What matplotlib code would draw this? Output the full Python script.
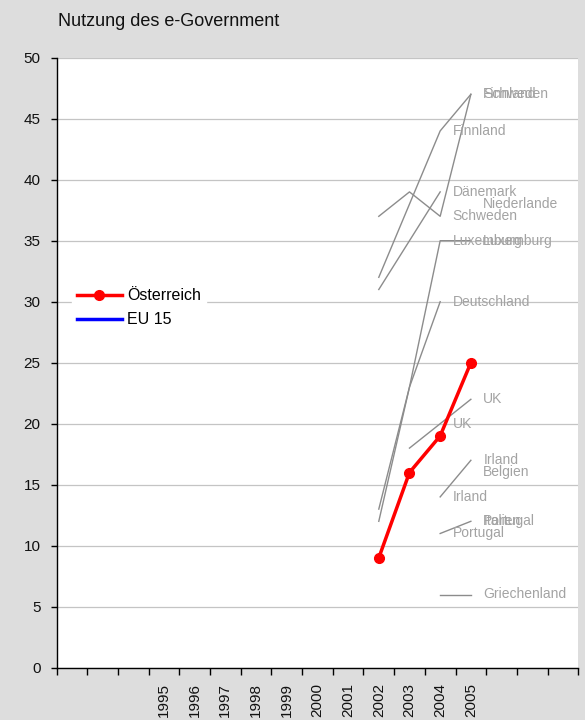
import numpy as np
import matplotlib
matplotlib.use("Agg")
import matplotlib.pyplot as plt
from matplotlib.lines import Line2D

plt.rcParams['font.family'] = ['Liberation Sans', 'DejaVu Sans']

# Category axis: three empty slots either side of the year range
categories = ['', '', '', '1995', '1996', '1997', '1998', '1999', '2000',
              '2001', '2002', '2003', '2004', '2005', '', '', '']
years = [2002, 2003, 2004, 2005]
nan = np.nan

oesterreich = [9, 16, 19, 25]
eu15 = [nan, nan, nan, nan]

schweden = [37, 39, 37, 47]
finnland = [32, nan, 44, 47]
daenemark = [31, nan, 39, nan]
niederlande = [nan, nan, nan, 38]
luxemburg = [12, 23, 35, 35]
deutschland = [13, 23, 30, nan]
uk = [nan, 18, 20, 22]
irland = [nan, nan, 14, 17]
belgien = [nan, nan, nan, 16]
italien = [nan, nan, nan, 12]
portugal = [nan, nan, 11, 12]
griechenland = [nan, nan, 6, 6]

country_names = ['Schweden', 'Finnland', 'Dänemark', 'Niederlande', 'Luxemburg',
                 'Deutschland', 'UK', 'Irland', 'Belgien', 'Italien', 'Portugal',
                 'Griechenland']
country_values = [schweden, finnland, daenemark, niederlande, luxemburg,
                  deutschland, uk, irland, belgien, italien, portugal, griechenland]
# years at which the country name is written next to its point
label_years = [[2004, 2005], [2004, 2005], [2004], [2005], [2004, 2005],
               [2004], [2004, 2005], [2004, 2005], [2005], [2005], [2004, 2005],
               [2005]]

bg = '#dddddd'
fig = plt.figure(figsize=(5.85, 7.2), dpi=100, facecolor=bg)
ax = fig.add_axes([56.5 / 585, 52.3 / 720, 521.8 / 585, 610 / 720])
ax.set_facecolor('white')

xpos = np.array([categories.index(str(y)) for y in years], dtype=float)

gray_line = '#8c8c8c'
gray_text = '#a3a3a3'
for name, vals, lyears in zip(country_names, country_values, label_years):
    v = np.array(vals, dtype=float)
    ok = ~np.isnan(v)
    ax.plot(xpos[ok], v[ok], color=gray_line, lw=1.0, zorder=2)
    for y in lyears:
        i = years.index(y)
        ax.annotate(name, (xpos[i], v[i]), xytext=(9, 0), textcoords='offset points',
                    va='center', ha='left', fontsize=10, color=gray_text, zorder=3)

ax.plot(xpos, oesterreich, color='#ff0000', lw=2.5, marker='o', ms=7,
        zorder=5, label='Österreich')
ax.plot(xpos, eu15, color='#0000ff', lw=2.5, zorder=5, label='EU 15')

ax.set_xlim(-0.5, len(categories) - 0.5)
ax.set_ylim(0, 50)
ax.set_yticks(np.arange(0, 51, 5))
ax.yaxis.grid(True, color='#c4c4c4', lw=0.9)
ax.set_axisbelow(True)

ax.set_xticks(np.arange(len(categories)))
ax.set_xticklabels(categories, rotation=90, fontsize=11, color='#111111')
ax.set_xticks(np.arange(len(categories) + 1) - 0.5, minor=True)
ax.tick_params(axis='x', which='major', length=0, pad=11)
ax.tick_params(axis='x', which='minor', length=5, width=1, color='black', direction='out')
ax.tick_params(axis='y', length=4.5, width=1, color='black', pad=7, labelsize=11,
               labelcolor='#111111')

for s in ['top', 'right']:
    ax.spines[s].set_visible(False)
for s in ['left', 'bottom']:
    ax.spines[s].set_color('black')
    ax.spines[s].set_linewidth(1)

handles = [Line2D([], [], color='#ff0000', lw=2.5, marker='o', ms=7),
           Line2D([], [], color='#0000ff', lw=2.5)]
leg = ax.legend(handles, ['Österreich', 'EU 15'], loc='center left',
                bbox_to_anchor=(0.03, 0.59), borderaxespad=0, borderpad=0.3,
                frameon=True, fancybox=False, fontsize=11.5, handlelength=2.8,
                handletextpad=0.35, labelspacing=0.55)
leg.get_frame().set_facecolor('white')
leg.get_frame().set_edgecolor('white')
leg.get_frame().set_alpha(1)
leg.set_zorder(6)

fig.text(58 / 585, 1 - 22 / 720, 'Nutzung des e-Government', fontsize=13,
         va='center', ha='left', color='#111111')

fig.savefig('out.png', dpi=100, facecolor=bg)
